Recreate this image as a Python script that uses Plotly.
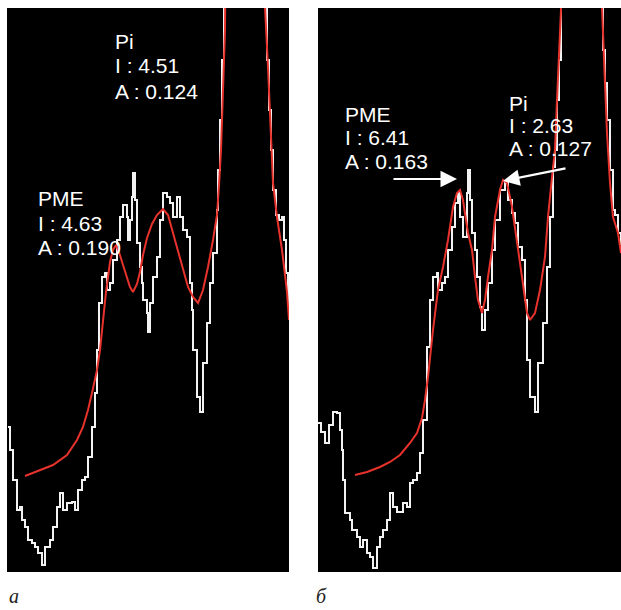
import plotly.graph_objects as go

# ---------------- data (channel index, intensity in arbitrary units) ----------------
a_meas_x = [1, 3, 6, 10, 13, 15, 18, 21, 25, 28, 31, 35, 38, 43, 46, 50, 53, 56, 60, 65, 68, 71, 75, 78, 81, 85,
            88, 90, 92, 95, 98, 100, 103, 106, 110, 113, 116, 120, 121, 123, 125, 126, 128, 130, 133, 135, 136,
            140, 141, 143, 146, 150, 153, 156, 160, 163, 166, 170, 173, 176, 180, 183, 185, 186, 190, 193, 196,
            200, 203, 206, 210, 211, 213, 215, 217, 218, 238, 257, 258, 260, 262, 264, 266, 269, 272, 275, 277,
            279, 281, 282]
a_meas_y = [145, 122, 92, 62, 65, 52, 45, 32, 29, 25, 19, 7, 25, 32, 45, 65, 79, 62, 69, 70, 62, 82, 92, 95, 115, 145,
            179, 222, 269, 295, 299, 282, 289, 312, 332, 355, 367, 355, 332, 352, 375, 399, 372, 329, 305, 289, 272,
            259, 240, 269, 295, 315, 352, 379, 375, 369, 355, 375, 355, 342, 335, 289, 262, 222, 175, 160, 209,
            249, 289, 319, 362, 402, 452, 512, 572, 672, 872, 672, 565, 512, 462, 422, 382, 357, 352, 355, 332,
            299, 272, 252]

a_fit_x = [18, 33, 46, 60, 70, 76, 81, 85, 90, 93, 96, 99, 103, 106, 109, 112, 116, 120, 123, 126, 130, 133, 136,
           140, 145, 150, 156, 161, 166, 171, 176, 181, 186, 191, 196, 201, 206, 210, 212, 214, 216, 218, 219,
           238, 257, 258, 261, 264, 266, 270, 275, 278, 280, 282]
a_fit_y = [96, 102, 107, 117, 132, 145, 162, 179, 202, 222, 250, 280, 310, 322, 327, 320, 307, 295, 285, 280, 288,
           300, 317, 334, 348, 357, 363, 357, 339, 322, 302, 285, 275, 269, 282, 305, 332, 357, 387, 422, 482,
           542, 672, 872, 672, 565, 505, 439, 389, 355, 322, 297, 280, 252]

b_meas_x = [0, 3, 7, 11, 15, 19, 22, 24, 25, 27, 32, 34, 39, 42, 45, 49, 52, 55, 59, 62, 65, 69, 72, 75, 79, 85,
            89, 92, 95, 99, 102, 105, 109, 112, 115, 119, 120, 124, 127, 130, 134, 137, 140, 142, 145, 149, 150,
            152, 154, 157, 159, 162, 164, 167, 170, 174, 177, 182, 187, 190, 194, 197, 200, 204, 207, 209, 212,
            217, 220, 225, 229, 232, 235, 237, 239, 241, 243, 244, 264, 283, 284, 285, 287, 289, 292, 295, 297,
            300, 303]
b_meas_y = [149, 140, 129, 147, 160, 159, 142, 122, 92, 59, 52, 42, 35, 25, 32, 19, 15, 4, 25, 35, 42, 52, 79, 65,
            60, 69, 65, 89, 92, 99, 119, 152, 225, 272, 295, 299, 282, 289, 295, 322, 345, 369, 379, 355, 335,
            379, 402, 372, 339, 322, 295, 265, 242, 262, 289, 322, 352, 382, 389, 372, 359, 349, 325, 312, 272,
            212, 175, 160, 209, 249, 305, 355, 405, 422, 472, 512, 572, 672, 872, 672, 565, 522, 489, 452, 402,
            362, 357, 339, 327]

b_fit_x = [37, 49, 62, 72, 82, 92, 99, 104, 107, 110, 115, 120, 125, 130, 135, 139, 142, 145, 150, 154, 157, 160,
           164, 167, 170, 174, 177, 182, 185, 189, 194, 199, 204, 209, 212, 217, 222, 227, 230, 234, 237, 239,
           241, 243, 244, 264, 283, 284, 287, 289, 292, 295, 300, 303]
b_fit_y = [97, 100, 105, 110, 117, 129, 139, 154, 172, 195, 242, 282, 305, 332, 365, 379, 382, 372, 339, 322, 295,
           272, 259, 272, 295, 322, 355, 382, 392, 389, 365, 332, 295, 259, 252, 259, 282, 315, 355, 395, 422,
           472, 512, 562, 672, 872, 672, 565, 489, 439, 389, 355, 339, 319]

labels_a_pi = ["Pi", "I : 4.51", "A : 0.124"]
labels_a_pme = ["PME", "I : 4.63", "A : 0.190"]
labels_b_pme = ["PME", "I : 6.41", "A : 0.163"]
labels_b_pi = ["Pi", "I : 2.63", "A : 0.127"]
panel_letters = ["а", "б"]

# peak positions pointed at by arrows in panel b (channel, intensity)
b_pme_peak = (139, 393)
b_pi_peak = (185, 391)

# ---------------- figure ----------------
W, H = 621, 610
fig = go.Figure()

white = "#f2f2f2"
red = "#e8322c"

fig.add_trace(go.Scatter(x=a_meas_x, y=a_meas_y, mode="lines", line=dict(color=white, width=2, shape="hv"),
                         xaxis="x", yaxis="y", hoverinfo="skip"))
fig.add_trace(go.Scatter(x=a_fit_x, y=a_fit_y, mode="lines", line=dict(color=red, width=2),
                         xaxis="x", yaxis="y", hoverinfo="skip"))
fig.add_trace(go.Scatter(x=b_meas_x, y=b_meas_y, mode="lines", line=dict(color=white, width=2, shape="hv"),
                         xaxis="x2", yaxis="y2", hoverinfo="skip"))
fig.add_trace(go.Scatter(x=b_fit_x, y=b_fit_y, mode="lines", line=dict(color=red, width=2),
                         xaxis="x2", yaxis="y2", hoverinfo="skip"))

ydom = [(H - 572) / H, (H - 8) / H]
axis_common = dict(showgrid=False, zeroline=False, showticklabels=False, ticks="", showline=False, fixedrange=True)

fig.update_layout(
    width=W, height=H,
    margin=dict(l=0, r=0, t=0, b=0),
    paper_bgcolor="white",
    plot_bgcolor="black",
    showlegend=False,
    xaxis=dict(domain=[7 / W, 289 / W], range=[0, 282], **axis_common),
    yaxis=dict(domain=ydom, range=[0, 564], **axis_common),
    xaxis2=dict(domain=[318 / W, 1.0], range=[0, 303], anchor="y2", **axis_common),
    yaxis2=dict(domain=ydom, range=[0, 564], anchor="x2", **axis_common),
)

font_txt = dict(family="Liberation Sans, Arial, Helvetica, sans-serif", size=21, color="white")


def add_block(lines, left_px, centers_px):
    for t, c in zip(lines, centers_px):
        fig.add_annotation(text=t, xref="paper", yref="paper", x=left_px / W, y=1 - (c + 2) / H,
                           xanchor="left", yanchor="middle", showarrow=False, font=font_txt)


add_block(labels_a_pi, 113, [39, 64, 89])
add_block(labels_a_pme, 36, [197, 221, 245])
add_block(labels_b_pme, 343, [113, 136, 159])
add_block(labels_b_pi, 507, [101, 124, 147])

# arrows in panel b
fig.add_annotation(x=b_pme_peak[0], y=b_pme_peak[1], xref="x2", yref="y2", text="", showarrow=True,
                   ax=-65, ay=0, arrowhead=2, arrowsize=1.5, arrowwidth=2.2, arrowcolor="white", standoff=0)
fig.add_annotation(x=b_pi_peak[0], y=b_pi_peak[1], xref="x2", yref="y2", text="", showarrow=True,
                   ax=64, ay=-13, arrowhead=2, arrowsize=1.5, arrowwidth=2.2, arrowcolor="white", standoff=0)

# panel letters
font_letter = dict(family="Liberation Serif, Times New Roman, serif", size=20, color="#222222")
fig.add_annotation(text="<i>" + panel_letters[0] + "</i>", xref="paper", yref="paper", x=7 / W, y=0.001,
                   xanchor="left", yanchor="bottom", showarrow=False, font=font_letter)
fig.add_annotation(text="<i>" + panel_letters[1] + "</i>", xref="paper", yref="paper", x=314 / W, y=0.001,
                   xanchor="left", yanchor="bottom", showarrow=False, font=font_letter)

fig.write_html("out.html", include_plotlyjs=True, config={"displayModeBar": False},
               post_script="document.body.style.margin='0px';document.body.style.overflow='hidden';")
